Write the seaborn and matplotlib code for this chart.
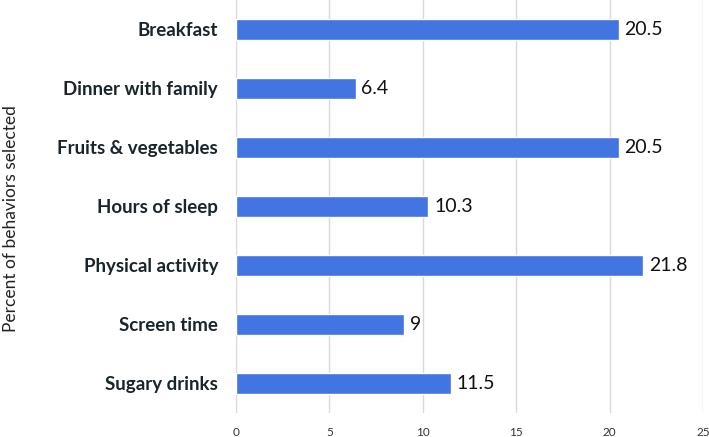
import matplotlib
matplotlib.use("Agg")
import matplotlib.pyplot as plt
import seaborn as sns
import pandas as pd

categories = ["Breakfast", "Dinner with family", "Fruits & vegetables", "Hours of sleep",
              "Physical activity", "Screen time", "Sugary drinks"]
values = [20.5, 6.4, 20.5, 10.3, 21.8, 9, 11.5]
value_labels = ["20.5", "6.4", "20.5", "10.3", "21.8", "9", "11.5"]
xticks = [0, 5, 10, 15, 20, 25]

sns.set_theme(style="white")
plt.rcParams['font.family'] = ['Lato', 'DejaVu Sans']

df = pd.DataFrame({"behavior": categories, "pct": values})

fig = plt.figure(figsize=(7.09, 4.37), dpi=100)
ax = fig.add_axes([0.333, 0.055, 0.6585, 0.945])
sns.barplot(data=df, y="behavior", x="pct", orient="h", color="#4274E2",
            width=0.37, ax=ax, saturation=1)

ax.set_xlim(0, 25)
ax.set_xticks(xticks)
ax.set_xticklabels([str(t) for t in xticks], fontsize=8.5, color="#333333")
ax.xaxis.grid(True, color="#D9D9D9", linewidth=1)
ax.set_axisbelow(True)
for s in ax.spines.values():
    s.set_visible(False)
ax.tick_params(axis="both", length=0)
ax.tick_params(axis="x", pad=10)
ax.tick_params(axis="y", pad=13)
for lab in ax.get_yticklabels():
    lab.set_fontweight("bold")
    lab.set_fontsize(13.5)
    lab.set_color("#1a252b")
ax.set_xlabel("")
ax.set_ylabel("")
fig.text(0.016, 0.5, "Percent of behaviors selected", rotation=90, va="center",
         ha="center", fontsize=12.5, color="#222222")

for i, (v, t) in enumerate(zip(values, value_labels)):
    ax.text(v + 0.3, i, t, va="center", ha="left", fontsize=14, color="#111111")

fig.savefig("out.png", dpi=100)
